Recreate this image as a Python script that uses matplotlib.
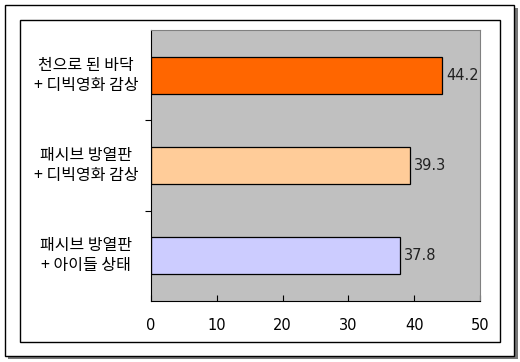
import matplotlib.pyplot as plt
from matplotlib.patches import Rectangle

plt.rcParams['font.family'] = ['Noto Sans CJK KR', 'DejaVu Sans']

# 데이터 (위에서 아래 순서)
labels = ['천으로 된 바닥\n+ 디빅영화 감상', '패시브 방열판\n+ 디빅영화 감상', '패시브 방열판\n+ 아이들 상태']
values = [44.2, 39.3, 37.8]
colors = ['#FF6600', '#FFCC99', '#CCCCFF']
xticks = [0, 10, 20, 30, 40, 50]

W, H = 520, 362
fig = plt.figure(figsize=(W / 100, H / 100), dpi=100)

# 바깥 테두리 + 그림자
def px(x, y, w, h):
    return (x / W, 1 - (y + h) / H, w / W, h / H)

x0, y0, w0, h0 = px(8, 8, 510, 351)
fig.patches.append(Rectangle((x0, y0), w0, h0, transform=fig.transFigure,
                             facecolor='#777777', edgecolor='none', zorder=0))
x0, y0, w0, h0 = px(5, 5, 509, 351)
fig.patches.append(Rectangle((x0, y0), w0, h0, transform=fig.transFigure,
                             facecolor='white', edgecolor='black', lw=1, zorder=1))
x0, y0, w0, h0 = px(20, 20, 480, 322)
fig.patches.append(Rectangle((x0, y0), w0, h0, transform=fig.transFigure,
                             facecolor='white', edgecolor='black', lw=1, zorder=2))

ax = fig.add_axes(px(151, 30, 329, 271), zorder=3)
ax.set_facecolor('#C0C0C0')

pos = list(range(len(values)))[::-1]
ax.barh(pos, values, height=0.41, color=colors, edgecolor='black', linewidth=0.9)
for p, v in zip(pos, values):
    ax.text(v + 0.7, p, f'{v}', va='center', ha='left', fontsize=10.5,
            family=['DejaVu Sans'], color='#222222')

ax.set_xlim(0, 50)
ax.set_ylim(-0.5, len(values) - 0.5)
ax.set_xticks(xticks)
ax.set_xticklabels([str(t) for t in xticks], fontsize=10.5, family=['DejaVu Sans'])
ax.tick_params(axis='x', direction='in', length=4, pad=12, width=0.8)

# 카테고리 이름은 가운데 정렬로 직접 배치
ax.set_yticks([])
for p, lab in zip(pos, labels):
    ax.text(-0.198, p, lab, transform=ax.get_yaxis_transform(), ha='center',
            va='center', fontsize=11.5, linespacing=1.25)
ax.set_yticks([0.5, 1.5], minor=True)
ax.tick_params(axis='y', which='minor', length=4, direction='out', width=0.8)

ax.spines['left'].set_color('black')
ax.spines['bottom'].set_color('black')
ax.spines['top'].set_color('#808080')
ax.spines['right'].set_color('#808080')

fig.savefig('out.png', dpi=100)
